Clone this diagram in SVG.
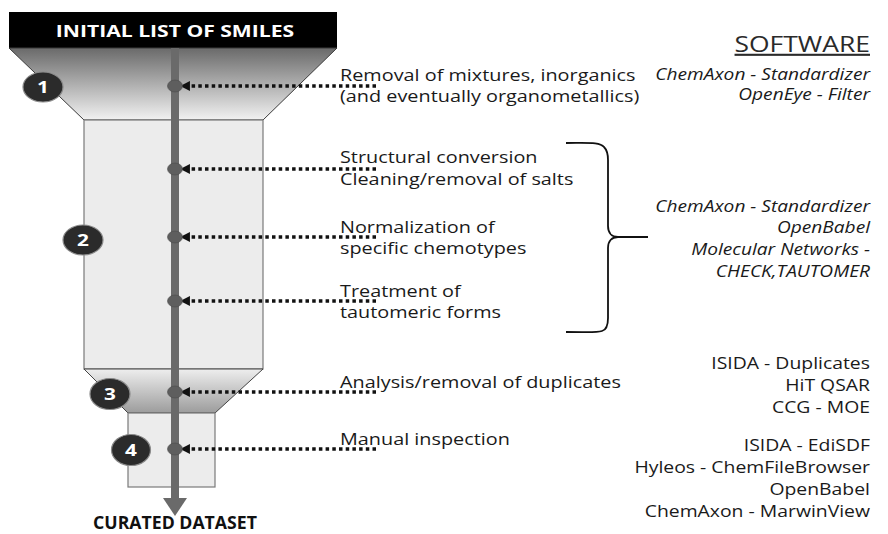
<svg xmlns="http://www.w3.org/2000/svg" width="888" height="534" viewBox="0 0 888 534">
<style>
.step{font-family:"Open Sans","Liberation Sans",sans-serif;font-size:16px;fill:#1a1a1a}
.sw{font-family:"Open Sans","Liberation Sans",sans-serif;font-size:16.5px;fill:#1a1a1a;text-anchor:end}
.swi{font-style:italic}
.num{font-family:"Open Sans","Liberation Sans",sans-serif;font-size:16px;font-weight:bold;fill:#fff;text-anchor:middle}
.title{font-family:"Open Sans","Liberation Sans",sans-serif;font-size:16px;font-weight:bold;text-anchor:middle}
.dot{stroke:#111;stroke-width:3.5;stroke-dasharray:3.5 3.2;fill:none}
.badge{fill:#2b2b2b;stroke:#8a8a8a;stroke-width:1.2}
.ball{fill:#5e5e5e;stroke:#4a4a4a;stroke-width:0.6}
</style>
<defs>
<linearGradient id="g1" x1="0" y1="0" x2="0" y2="1">
<stop offset="0" stop-color="#6a6a6a"/>
<stop offset="1" stop-color="#f2f2f2"/>
</linearGradient>
<linearGradient id="g3" x1="0" y1="0" x2="0" y2="1">
<stop offset="0" stop-color="#eeeeee"/>
<stop offset="1" stop-color="#9c9c9c"/>
</linearGradient>
<marker id="ah" viewBox="0 0 10 10" refX="2" refY="5" markerWidth="2.8" markerHeight="2.8" orient="auto-start-reverse">
<path d="M0,0 L10,5 L0,10 z" fill="#111"/>
</marker>
</defs>
<rect width="888" height="534" fill="#fff"/>
<g id="funnel">
<rect x="9" y="12" width="328" height="36" fill="#000"/>
<text class="title" x="175" y="37.5" fill="#fff" transform="matrix(1.32 0 0 1 -56 0)">INITIAL LIST OF SMILES</text>
<path d="M9,48 L337,48 L263,120 L84,120 Z" fill="url(#g1)" stroke="#3a3a3a" stroke-width="1"/>
<rect x="84" y="120" width="179" height="249" fill="#ececec" stroke="#7a7a7a" stroke-width="1.2"/>
<path d="M84,369 L263,369 L215,413 L128,413 Z" fill="url(#g3)" stroke="#444" stroke-width="1"/>
<rect x="128" y="413" width="87" height="74" fill="#ececec" stroke="#7a7a7a" stroke-width="1.2"/>
<rect x="171" y="48" width="8" height="452" fill="#6a6a6a"/>
<path d="M163,498 L187,498 L175,516 Z" fill="#6a6a6a"/>
<text class="title" x="175" y="529" fill="#111" style="font-size:17px" transform="matrix(1.04 0 0 1 -7 0)">CURATED DATASET</text>
</g>
<g id="badges">
<g id="b1"><ellipse class="badge" cx="43" cy="87" rx="20" ry="15"/><text class="num" x="43" y="93" transform="matrix(1.3 0 0 1 -12.9 0)">1</text></g>
<g id="b2"><ellipse class="badge" cx="83" cy="240" rx="20" ry="15"/><text class="num" x="83" y="246" transform="matrix(1.3 0 0 1 -24.9 0)">2</text></g>
<g id="b3"><ellipse class="badge" cx="110" cy="394" rx="20" ry="15.5"/><text class="num" x="110" y="400" transform="matrix(1.3 0 0 1 -33 0)">3</text></g>
<g id="b4"><ellipse class="badge" cx="131" cy="450" rx="19.5" ry="15.5"/><text class="num" x="131" y="456" transform="matrix(1.3 0 0 1 -39.3 0)">4</text></g>
</g>
<g id="connectors">
<line class="dot" x1="376" y1="86" x2="188" y2="86" marker-end="url(#ah)"/>
<line class="dot" x1="376" y1="169" x2="188" y2="169" marker-end="url(#ah)"/>
<line class="dot" x1="376" y1="237" x2="188" y2="237" marker-end="url(#ah)"/>
<line class="dot" x1="376" y1="301" x2="188" y2="301" marker-end="url(#ah)"/>
<line class="dot" x1="376" y1="392" x2="188" y2="392" marker-end="url(#ah)"/>
<line class="dot" x1="376" y1="449" x2="188" y2="449" marker-end="url(#ah)"/>
<path d="M566,143 C590,143 600,142 604,147 C607,150 608,154 608,160 L608,226 C608,233 612,237 618,237 L648,237 M618,237 C612,237 608,241 608,248 L608,318 C608,326 606,330 602,331 C596,333 588,332 566,332" fill="none" stroke="#111" stroke-width="1.8"/>
</g>
<g id="balls">
<ellipse class="ball" cx="175" cy="86" rx="7.5" ry="6"/>
<ellipse class="ball" cx="175" cy="169" rx="7.5" ry="6"/>
<ellipse class="ball" cx="175" cy="237" rx="7.5" ry="6"/>
<ellipse class="ball" cx="175" cy="301" rx="7.5" ry="6"/>
<ellipse class="ball" cx="175" cy="392" rx="7.5" ry="6"/>
<ellipse class="ball" cx="175" cy="449" rx="7.5" ry="6"/>
</g>
<g id="steps" transform="matrix(1.24 0 0 1 -81.6 0)">
<text class="step" x="340" y="81">Removal of mixtures, inorganics</text>
<text class="step" x="340" y="102">(and eventually organometallics)</text>
<text class="step" x="340" y="163">Structural conversion</text>
<text class="step" x="340" y="185">Cleaning/removal of salts</text>
<text class="step" x="340" y="233">Normalization of</text>
<text class="step" x="340" y="254">specific chemotypes</text>
<text class="step" x="340" y="297">Treatment of</text>
<text class="step" x="340" y="318">tautomeric forms</text>
<text class="step" x="340" y="388">Analysis/removal of duplicates</text>
<text class="step" x="340" y="445">Manual inspection</text>
</g>
<g id="software">
<text x="870" y="52" text-anchor="end" transform="matrix(1.26 0 0 1 -226.2 0)" style="font-family:'Open Sans','Liberation Sans',sans-serif;font-size:21px;fill:#2a2a2a;text-decoration:underline">SOFTWARE</text>
<g transform="matrix(1.16 0 0 1 -139.2 0)">
<text class="sw swi" x="870" y="80">ChemAxon - Standardizer</text>
<text class="sw swi" x="870" y="100">OpenEye - Filter</text>
<text class="sw swi" x="870" y="212">ChemAxon - Standardizer</text>
<text class="sw swi" x="870" y="233">OpenBabel</text>
<text class="sw swi" x="870" y="255">Molecular Networks -</text>
<text class="sw swi" x="870" y="277">CHECK,TAUTOMER</text>
</g>
<g transform="matrix(1.14 0 0 1 -121.8 0)">
<text class="sw" x="870" y="369" style="font-size:17px">ISIDA - Duplicates</text>
<text class="sw" x="870" y="391" style="font-size:17px">HiT QSAR</text>
<text class="sw" x="870" y="413" style="font-size:17px">CCG - MOE</text>
<text class="sw" x="870" y="451" style="font-size:17px">ISIDA - EdiSDF</text>
<text class="sw" x="870" y="473" style="font-size:17px">Hyleos - ChemFileBrowser</text>
<text class="sw" x="870" y="495" style="font-size:17px">OpenBabel</text>
<text class="sw" x="870" y="517" style="font-size:17px">ChemAxon - MarwinView</text>
</g>
</g>
</svg>
